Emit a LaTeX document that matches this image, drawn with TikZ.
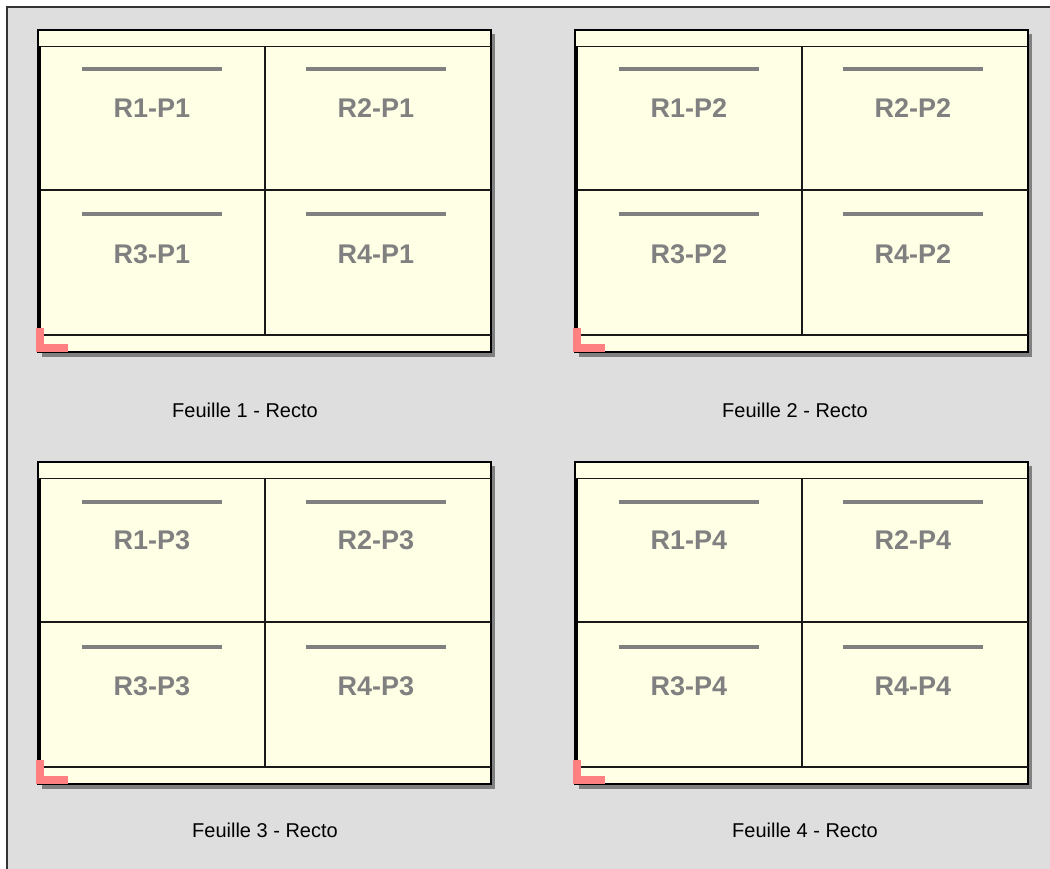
\documentclass[tikz,border=0pt]{standalone}
\usepackage{fontspec}
\setmainfont{Liberation Sans}
\usepackage{xcolor}
\usepackage{tikz}

\definecolor{panelgray}{HTML}{DEDEDE}
\definecolor{paper}{HTML}{FFFFE6}
\definecolor{bargray}{HTML}{808080}
\definecolor{cornerpink}{HTML}{FF8080}

\begin{document}
\begin{tikzpicture}[x=1pt, y=-1pt,
    sheet/.style={draw=black, line width=1.6pt, fill=paper},
    rule/.style={line width=1.5pt, black!90},
    cell label/.style={text=bargray, font=\bfseries\fontsize{27}{30}\selectfont},
    caption/.style={font=\fontsize{20}{24}\selectfont}]
    % Panel
    \useasboundingbox (0,0) rectangle (1050,869);
    \fill[white] (0,0) rectangle (1050,869);
    \fill[panelgray] (7,7) rectangle (1050,869);
    \draw[line width=1.5pt, black!80] (7,869) -- (7,7) -- (1050,7);

    % Sheets
    \foreach \sx/\sy/\p/\cx/\cy in {38/30/1/245/410, 575/30/2/795/410, 38/462/3/265/830, 575/462/4/805/830} {
        \begin{scope}[shift={(\sx,\sy)}]
            \fill[bargray] (4,4) rectangle (457,327);
            \draw[sheet] (0,0) rectangle (453,322);
            \draw[rule] (0,16.5) -- (453,16.5);
            \draw[rule] (0,305) -- (453,305);
            \draw[rule] (227,16.5) -- (227,305);
            \draw[rule] (0,160) -- (453,160);
            \draw[line width=3pt] (1.5,16.5) -- (1.5,299);
            % Marks
            \foreach \bx in {44,268} {
                \draw[bargray, line width=4pt] (\bx,39.5) -- ++(140,0);
                \draw[bargray, line width=4pt] (\bx,184.5) -- ++(140,0);
            }
            \node[cell label] (r1p\p) at (114,78) {R1-P\p};
            \node[cell label] (r2p\p) at (338,78) {R2-P\p};
            \node[cell label] (r3p\p) at (114,224) {R3-P\p};
            \node[cell label] (r4p\p) at (338,224) {R4-P\p};
            % Corner
            \fill[cornerpink] (-2,298) rectangle (6,322);
            \fill[cornerpink] (-2,314) rectangle (30,322);
        \end{scope}
        \node[caption] (cap\p) at (\cx,\cy) {Feuille \p{} - Recto};
    }
\end{tikzpicture}
\end{document}
